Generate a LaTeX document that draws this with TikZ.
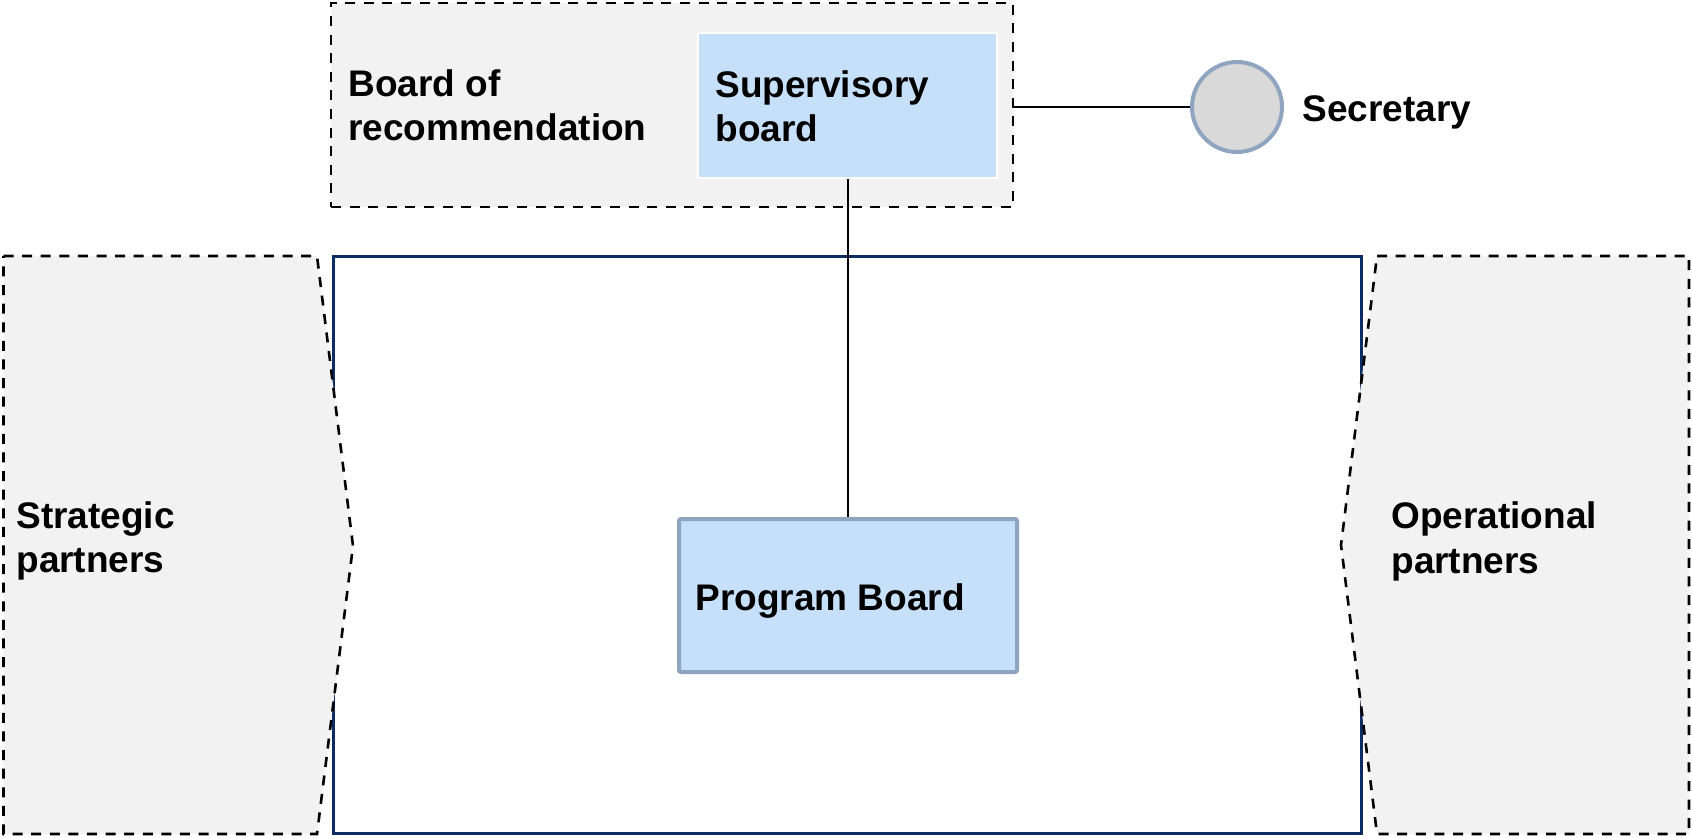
\documentclass[tikz,border=0pt]{standalone}
\usepackage{fontspec}
\setmainfont{Liberation Sans}
\definecolor{boxgray}{HTML}{F2F2F2}
\definecolor{boardblue}{HTML}{C7E0F9}
\definecolor{edgeblue}{HTML}{8FA5BF}
\definecolor{areanavy}{HTML}{0C2D64}
\definecolor{secgray}{HTML}{D9D9D9}
\begin{document}
\begin{tikzpicture}[x=0.5pt, y=-0.5pt,
  lbl/.style={font=\bfseries\fontsize{18.5}{22}\selectfont, align=left, inner sep=0pt, anchor=base west},
  dsh/.style={draw, line width=1.3pt, dash pattern=on 5pt off 4.3pt, fill=boxgray},
  brd/.style={rectangle, fill=boardblue, inner sep=0pt},
  conn/.style={line width=1pt}]
\useasboundingbox (0,0) rectangle (1692,839);
% program area and partners
\node[rectangle, draw=areanavy, line width=1.5pt, minimum width=514pt, minimum height=288.5pt, inner sep=0pt] (area) at (847.5,545){};
\draw[dsh] (3.5,256) -- (317,256) -- (353,546) -- (317,834) -- (3.5,834) -- cycle;
\draw[dsh] (1377,256) -- (1689,256) -- (1689,834) -- (1377,834) -- (1341,545) -- cycle;
\node[lbl] (stp) at (16,572) {Strategic\\partners};
\node[lbl] (opp) at (1391,573) {Operational\\partners};
% boards on top
\node[dsh, rectangle, minimum width=341pt, minimum height=102pt, inner sep=0pt] (bor) at (672,105){};
\node[lbl] (bortxt) at (348,141) {Board of\\recommendation};
\node[brd, draw=white, line width=1pt, minimum width=149.5pt, minimum height=72.5pt] (sup) at (847.5,105.5){};
\node[lbl] (suptxt) at (715,142) {Supervisory\\board};
\node[circle, fill=secgray, draw=edgeblue, line width=2pt, minimum size=45pt, inner sep=0pt] (sec) at (1237,107){};
\node[lbl] (sectxt) at (1302,122) {Secretary};
\draw[conn] (sec.west) -- (sec.west -| bor.east);
\draw[conn] (sup.south) -- (sup.south |- 0,517);
\node[brd, draw=edgeblue, line width=2pt, rounded corners=1pt, minimum width=169pt, minimum height=76.5pt] (pgb) at (848,595.5){};
\node[lbl] (pgbtxt) at (695,610) {Program Board};
\end{tikzpicture}
\end{document}
